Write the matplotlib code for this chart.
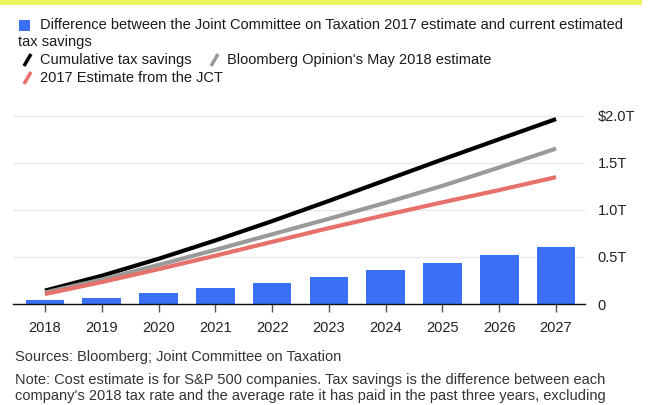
import matplotlib
matplotlib.use("Agg")
import matplotlib.pyplot as plt
from matplotlib.patches import Rectangle
from matplotlib.lines import Line2D

years = [2018, 2019, 2020, 2021, 2022, 2023, 2024, 2025, 2026, 2027]
difference = [0.039, 0.067, 0.112, 0.165, 0.225, 0.291, 0.364, 0.437, 0.52, 0.605]
cumulative = [0.142, 0.30, 0.48, 0.675, 0.88, 1.095, 1.315, 1.535, 1.75, 1.964]
bloomberg_may2018 = [0.122, 0.26, 0.415, 0.575, 0.74, 0.905, 1.075, 1.255, 1.45, 1.65]
jct_2017 = [0.106, 0.233, 0.37, 0.513, 0.66, 0.806, 0.945, 1.08, 1.21, 1.347]
ytick_vals = [0, 0.5, 1.0, 1.5, 2.0]
ytick_labels = ["0", "0.5T", "1.0T", "1.5T", "$2.0T"]

BLUE = "#3b6ff5"
GREY = "#9a9a9a"
RED = "#e6706a"

plt.rcParams['font.family'] = ['Liberation Sans', 'DejaVu Sans']

W, H = 657, 405
fig = plt.figure(figsize=(W / 100, H / 100), dpi=100)
fig.patch.set_facecolor("white")

def fx(px):
    return px / W

def fy(py):
    return 1 - py / H

# top yellow band
fig.patches.append(Rectangle((0, fy(5)), fx(642), 5 / H, transform=fig.transFigure,
                             facecolor="#eff35b", edgecolor="none"))

ax = fig.add_axes([fx(13), fy(304), fx(585) - fx(13), fy(110) - fy(304)])
ax.bar(years, difference, width=0.68, color=BLUE, zorder=2)
ax.plot(years, cumulative, color="black", lw=3, solid_capstyle="butt",
        solid_joinstyle="round", zorder=3)
ax.plot(years, bloomberg_may2018, color=GREY, lw=3, solid_capstyle="butt",
        solid_joinstyle="round", zorder=3)
ax.plot(years, jct_2017, color=RED, lw=3, solid_capstyle="butt",
        solid_joinstyle="round", zorder=3)

ax.set_xlim(2017.437, 2027.51)
ax.set_ylim(0, 2.06)
ax.set_yticks(ytick_vals)
ax.set_yticklabels(ytick_labels)
ax.set_xticks(years)
ax.set_xticklabels([str(y) for y in years])
ax.yaxis.tick_right()
ax.tick_params(axis="y", length=0, pad=9, labelsize=10.5, labelcolor="#222222")
ax.tick_params(axis="x", length=6, width=1, color="#555555", pad=6, labelsize=10.5,
               labelcolor="#222222")
for s in ["top", "left", "right"]:
    ax.spines[s].set_visible(False)
ax.spines["bottom"].set_color("#111111")
ax.spines["bottom"].set_linewidth(1)
ax.grid(axis="y", color="#e9e9e9", lw=1, zorder=0)
ax.set_axisbelow(True)

# legend
TXT = "#1a1a1a"
fs = 10.5
fig.patches.append(Rectangle((fx(19), fy(31)), fx(11), 11 / H, transform=fig.transFigure,
                             facecolor=BLUE, edgecolor="none"))
fig.text(fx(40), fy(25), "Difference between the Joint Committee on Taxation 2017 estimate and current estimated",
         fontsize=fs, color=TXT, va="center", ha="left")
fig.text(fx(18), fy(42), "tax savings", fontsize=fs, color=TXT, va="center", ha="left")

def slash(x, y, color):
    fig.lines.append(Line2D([fx(x), fx(x + 7)], [fy(y + 6), fy(y - 6)], transform=fig.transFigure,
                            color=color, lw=2.5, solid_capstyle="butt"))

slash(24, 60, "black")
fig.text(fx(40), fy(60), "Cumulative tax savings", fontsize=fs, color=TXT, va="center", ha="left")
slash(211, 60, GREY)
fig.text(fx(227), fy(60), "Bloomberg Opinion's May 2018 estimate", fontsize=fs, color=TXT, va="center", ha="left")
slash(24, 78, RED)
fig.text(fx(40), fy(78), "2017 Estimate from the JCT", fontsize=fs, color=TXT, va="center", ha="left")

# footer
ffs = 10.5
fig.text(fx(15), fy(357), "Sources: Bloomberg; Joint Committee on Taxation", fontsize=ffs, color="#333333",
         va="center", ha="left")
fig.text(fx(15), fy(380), "Note: Cost estimate is for S&P 500 companies. Tax savings is the difference between each",
         fontsize=ffs, color="#333333", va="center", ha="left")
fig.text(fx(15), fy(396), "company's 2018 tax rate and the average rate it has paid in the past three years, excluding",
         fontsize=ffs, color="#333333", va="center", ha="left")

fig.savefig("out.png", dpi=100)
